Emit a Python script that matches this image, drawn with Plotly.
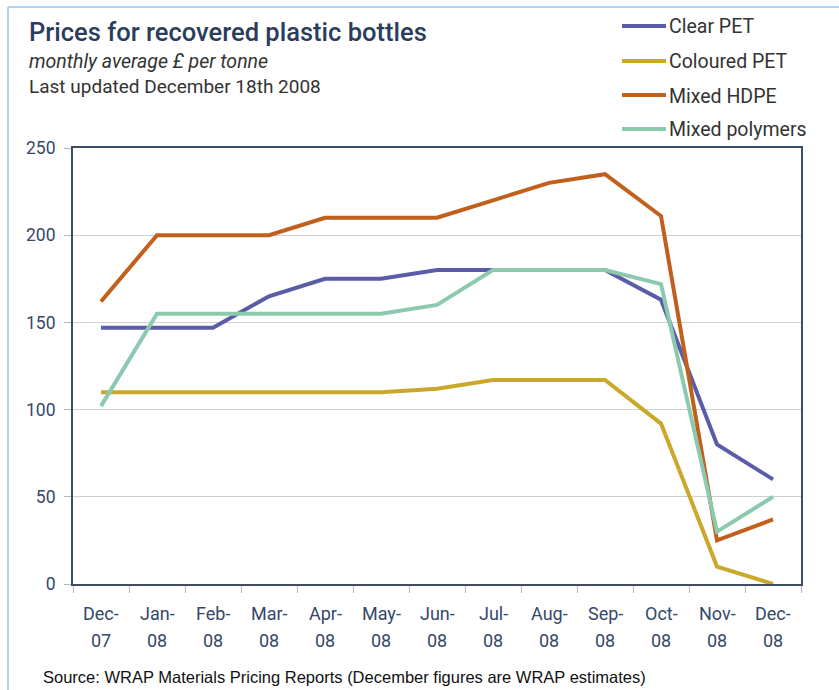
import plotly.graph_objects as go

# Monthly average prices, £ per tonne
months = ["Dec-07", "Jan-08", "Feb-08", "Mar-08", "Apr-08", "May-08", "Jun-08",
          "Jul-08", "Aug-08", "Sep-08", "Oct-08", "Nov-08", "Dec-08"]
clear_pet = [147, 147, 147, 165, 175, 175, 180, 180, 180, 180, 163, 80, 60]
coloured_pet = [110, 110, 110, 110, 110, 110, 112, 117, 117, 117, 92, 10, 0]
mixed_hdpe = [162, 200, 200, 200, 210, 210, 210, 220, 230, 235, 211, 25, 37]
mixed_polymers = [102, 155, 155, 155, 155, 155, 160, 180, 180, 180, 172, 30, 50]

series_names = ["Clear PET", "Coloured PET", "Mixed HDPE", "Mixed polymers"]
series_values = [clear_pet, coloured_pet, mixed_hdpe, mixed_polymers]
series_colors = ["#5a5ca8", "#c9a82a", "#c0601c", "#8ccab0"]

W, H = 839, 690
L, R, T, B = 73, 38, 148, 106
plot_w, plot_h = W - L - R, H - T - B


def px_x(px):
    return (px - L) / plot_w


def px_y(py):
    return (H - B - py) / plot_h


FONT = "Roboto"
TEXT_BLUE = "#34486a"
TEXT_GREY = "#333333"

fig = go.Figure()
for name, vals, col in zip(series_names, series_values, series_colors):
    fig.add_trace(go.Scatter(x=months, y=vals, name=name, mode="lines",
                             line=dict(color=col, width=4), showlegend=False))

shapes = []
annotations = []

# legend drawn as line samples with labels, top right
legend_rows = [26, 61, 95, 129]
for name, col, row in zip(series_names, series_colors, legend_rows):
    shapes.append(dict(type="line", xref="paper", yref="paper",
                       x0=px_x(622), x1=px_x(666), y0=px_y(row), y1=px_y(row),
                       line=dict(color=col, width=4)))
    annotations.append(dict(text=name, xref="paper", yref="paper", x=px_x(667), y=px_y(row + 1),
                            xanchor="left", yanchor="middle", showarrow=False,
                            font=dict(family=FONT, size=19.5, color=TEXT_GREY)))

# two-line month labels under each category ("Dec-" over "07")
for m in months:
    mon, yr = m.split("-")
    annotations.append(dict(text=mon + "-", xref="x", yref="paper", x=m, y=px_y(613),
                            xanchor="center", yanchor="middle", showarrow=False,
                            font=dict(family=FONT, size=18, color=TEXT_BLUE)))
    annotations.append(dict(text=yr, xref="x", yref="paper", x=m, y=px_y(640),
                            xanchor="center", yanchor="middle", showarrow=False,
                            font=dict(family=FONT, size=18, color=TEXT_BLUE)))

# light blue frame along the top and left edges
frame = "#aed3ef"
shapes.append(dict(type="line", xref="paper", yref="paper", x0=px_x(8), x1=px_x(W + 5),
                   y0=px_y(7), y1=px_y(7), line=dict(color=frame, width=2)))
shapes.append(dict(type="line", xref="paper", yref="paper", x0=px_x(8), x1=px_x(8),
                   y0=px_y(7), y1=px_y(H + 5), line=dict(color=frame, width=2)))

annotations += [
    dict(text="Prices for recovered plastic bottles", xref="paper", yref="paper",
         x=px_x(27), y=px_y(32), xanchor="left", yanchor="middle", showarrow=False,
         font=dict(family=FONT, size=25.5, color="#2a3d5c", weight=500)),
    dict(text="<i>monthly average £ per tonne</i>", xref="paper", yref="paper",
         x=px_x(27), y=px_y(61), xanchor="left", yanchor="middle", showarrow=False,
         font=dict(family=FONT, size=19.5, color=TEXT_GREY)),
    dict(text="Last updated December 18th 2008", xref="paper", yref="paper",
         x=px_x(27), y=px_y(86), xanchor="left", yanchor="middle", showarrow=False,
         font=dict(family=FONT, size=19, color=TEXT_GREY)),
    dict(text="Source: WRAP Materials Pricing Reports (December figures are WRAP estimates)",
         xref="paper", yref="paper", x=px_x(41), y=px_y(677), xanchor="left", yanchor="middle",
         showarrow=False, font=dict(family="Liberation Sans", size=16.5, color="#111111")),
]

fig.update_layout(
    width=W, height=H,
    margin=dict(l=L, r=R, t=T, b=B, pad=0),
    paper_bgcolor="white", plot_bgcolor="white",
    shapes=shapes, annotations=annotations,
    showlegend=False,
)
fig.update_xaxes(
    type="category", tickson="boundaries", ticks="outside", ticklen=7, tickcolor="#b0b8c4",
    showline=True, linecolor="#3e4e62", linewidth=2, mirror=True, showgrid=False,
    showticklabels=False, range=[-0.5, 12.5],
)
fig.update_yaxes(
    range=[0, 250], dtick=50, ticks="outside", ticklen=7, tickcolor="#b0b8c4",
    showline=True, linecolor="#3e4e62", linewidth=2, mirror=True,
    showgrid=True, gridcolor="#d0d0d0", gridwidth=1, zeroline=False,
    tickfont=dict(family=FONT, size=17.5, color=TEXT_BLUE), ticklabelstandoff=5,
)

fig.write_html("out.html")
